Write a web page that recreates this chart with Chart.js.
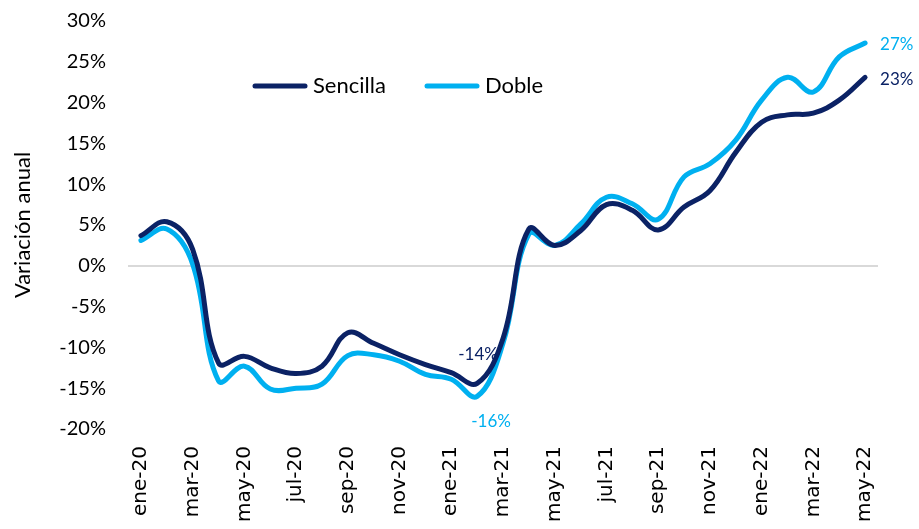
<!DOCTYPE html>
<html>
<head>
<meta charset="utf-8">
<script src="https://cdn.jsdelivr.net/npm/chart.js@4.4.0/dist/chart.umd.min.js"></script>
<style>
  html, body { margin: 0; padding: 0; background: #fff; }
  #wrap { width: 919px; height: 529px; position: relative; }
</style>
</head>
<body>
<div id="wrap"><canvas id="myChart"></canvas></div>
<script>
let months = ['ene-20','feb-20','mar-20','abr-20','may-20','jun-20','jul-20','ago-20','sep-20','oct-20','nov-20','dic-20',
  'ene-21','feb-21','mar-21','abr-21','may-21','jun-21','jul-21','ago-21','sep-21','oct-21','nov-21','dic-21',
  'ene-22','feb-22','mar-22','abr-22','may-22'];
let sencilla = [3.7, 5.4, 2.0, -11.9, -11.1, -12.5, -13.2, -12.3, -8.2, -9.5, -10.9, -12.1,
  -13.1, -14.4, -8.9, 4.5, 2.5, 4.3, 7.5, 6.8, 4.4, 7.2, 9.2, 13.9,
  17.6, 18.5, 18.7, 20.3, 23.1];
let doble = [3.1, 4.5, 0.2, -14.1, -12.3, -15.1, -15.0, -14.5, -11.0, -10.9, -11.7, -13.3,
  -13.9, -16.0, -9.5, 3.9, 2.5, 5.1, 8.4, 7.6, 5.7, 10.9, 12.5, 15.4,
  20.3, 23.1, 21.3, 25.6, 27.3];
let seriesNames = ['Sencilla', 'Doble'];
let colors = ['#0b2265', '#00b0f0'];
// labels shown on the chart: [series, index, text]
let pointLabels = [[0, 13, '-14%'], [1, 13, '-16%'], [1, 28, '27%'], [0, 28, '23%']];

const font = "Lato, 'Open Sans', sans-serif";

const overlay = {
  id: 'overlay',
  afterDatasetsDraw(chart) {
    const ctx = chart.ctx;
    const xs = chart.scales.x, ys = chart.scales.y;
    ctx.save();
    // data labels
    ctx.font = '17px ' + font;
    ctx.textBaseline = 'middle';
    pointLabels.forEach(([s, i, txt]) => {
      const v = s === 0 ? sencilla[i] : doble[i];
      let x = xs.getPixelForValue(i), y = ys.getPixelForValue(v);
      ctx.fillStyle = colors[s];
      if (i === months.length - 1) {
        ctx.textAlign = 'left';
        ctx.fillText(txt, x + 15, y + (s === 1 ? 1 : 2));
      } else if (s === 0) {
        ctx.textAlign = 'center';
        ctx.fillText(txt, x + 1, y - 29);
      } else {
        ctx.textAlign = 'center';
        ctx.fillText(txt, x + 14, y + 25);
      }
    });
    // legend inside the plot
    ctx.font = '22px ' + font;
    ctx.textAlign = 'left';
    const ly = 86;
    const items = [[255, 0], [427, 1]];
    items.forEach(([lx, s]) => {
      ctx.strokeStyle = colors[s];
      ctx.lineWidth = 5;
      ctx.lineCap = 'round';
      ctx.beginPath();
      ctx.moveTo(lx, ly);
      ctx.lineTo(lx + 50, ly);
      ctx.stroke();
      ctx.fillStyle = '#000';
      ctx.fillText(seriesNames[s], lx + 58, ly);
    });
    ctx.restore();
  }
};

new Chart('myChart', {
  type: 'line',
  data: {
    labels: months,
    datasets: [
      { label: seriesNames[0], data: sencilla, borderColor: colors[0], backgroundColor: colors[0],
        borderWidth: 5, tension: 0.4, pointRadius: 0, fill: false, borderCapStyle: 'round' },
      { label: seriesNames[1], data: doble, borderColor: colors[1], backgroundColor: colors[1],
        borderWidth: 5, tension: 0.4, pointRadius: 0, fill: false, borderCapStyle: 'round' }
    ]
  },
  options: {
    responsive: true,
    maintainAspectRatio: false,
    animation: false,
    layout: { padding: { top: 21, right: 41, left: 10, bottom: 0 } },
    plugins: { legend: { display: false }, tooltip: { enabled: false } },
    scales: {
      x: {
        offset: true,
        grid: { display: false },
        border: { display: false },
        ticks: {
          autoSkip: false, maxRotation: 90, minRotation: 90, color: '#000',
          font: { family: "'DejaVu Sans', sans-serif", size: 20 }, padding: 9,
          callback: (v, i) => (i % 2 === 0 ? months[i] : '')
        },
        afterFit: s => { s.height = 100; }
      },
      y: {
        min: -20, max: 30,
        ticks: { stepSize: 5, color: '#000', font: { family: font, size: 20 }, padding: 22,
          callback: v => v + '%' },
        grid: { color: c => (c.tick.value === 0 ? '#d9d9d9' : 'rgba(0,0,0,0)'), lineWidth: 2, drawTicks: false },
        border: { display: false },
        title: { display: true, text: 'Variación anual', color: '#000', font: { family: font, size: 22 }, padding: 0 },
        afterFit: s => { s.width = 118; s.paddingTop = 0; s.paddingBottom = 0; }
      }
    }
  },
  plugins: [overlay]
});
</script>
</body>
</html>
